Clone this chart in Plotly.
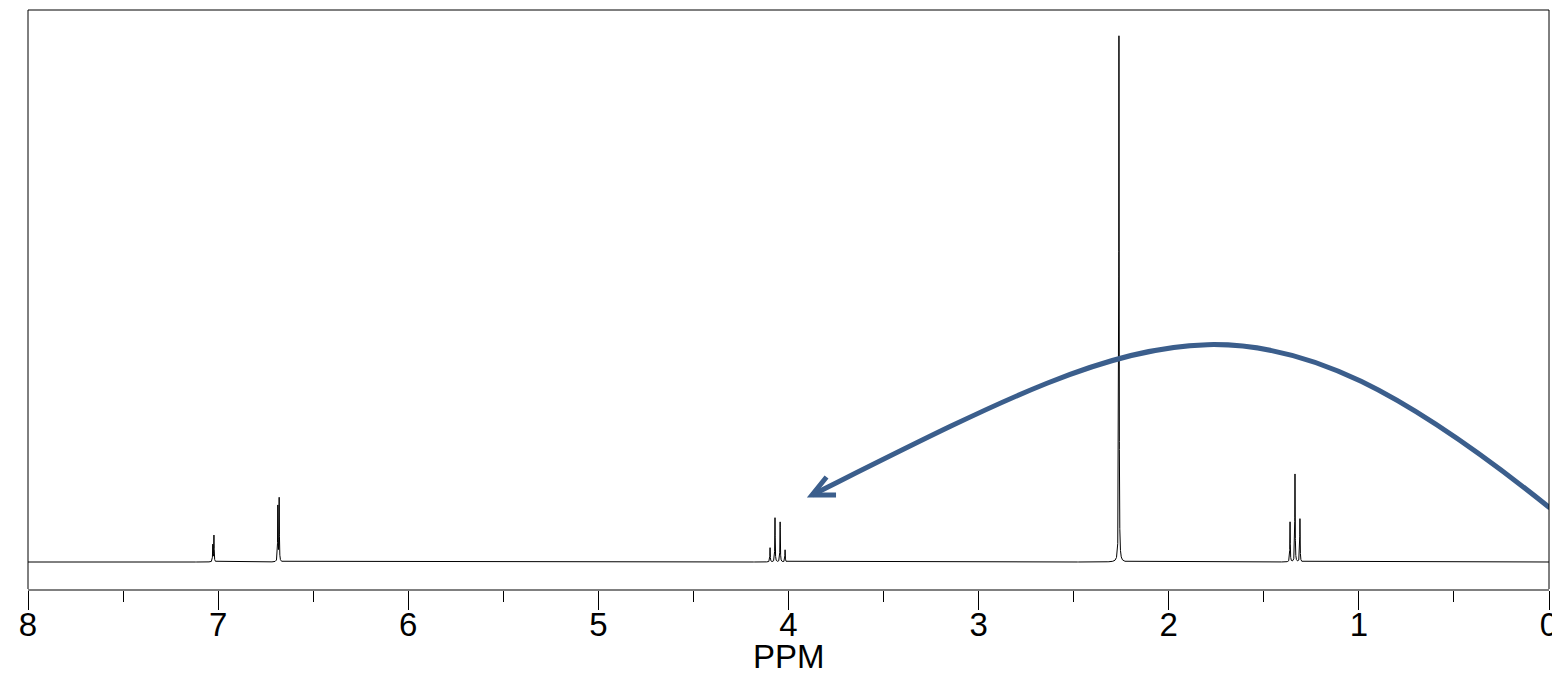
import numpy as np
import plotly.graph_objects as go

# Peak list (chemical shift in ppm, relative height)
peak_ppm = [7.028, 7.022, 6.686, 6.679, 4.097, 4.071, 4.044, 4.018, 2.262, 1.362, 1.336, 1.310]
peak_height = [0.032, 0.050, 0.105, 0.120, 0.027, 0.084, 0.076, 0.023, 1.000, 0.076, 0.167, 0.082]
line_hwhm = 0.0012  # Lorentzian half width (ppm)

tick_vals = [0, 1, 2, 3, 4, 5, 6, 7, 8]
tick_text = ["0", "1", "2", "3", "4", "5", "6", "7", "8"]
x_title = "PPM"

# Arrow annotation (ppm, relative height): cubic Bezier start, controls, end; head arms
arrow_curve = [(-0.005, 0.1027), (1.5805, 0.5612), (2.025, 0.4620), (3.876, 0.1274)]
arrow_head = [(3.80, 0.1616), (3.876, 0.1274), (3.75, 0.1274)]
arrow_color = "#3b5e8c"

# sampling grid: coarse everywhere, fine around each line
grid = [np.linspace(0, 8, 1601), np.array(peak_ppm)]
for p in peak_ppm:
    grid.append(np.linspace(p - 0.05, p + 0.05, 1001))
x = np.unique(np.concatenate(grid))
y = np.zeros_like(x)
for p, h in zip(peak_ppm, peak_height):
    y += h * line_hwhm**2 / (line_hwhm**2 + (x - p) ** 2)

fig = go.Figure()
fig.add_trace(go.Scatter(x=x, y=y, mode="lines", line=dict(color="black", width=1),
                         hoverinfo="skip", showlegend=False))

def pt(p):
    return f"{p[0]},{p[1]}"

path = "M " + pt(arrow_curve[0]) + " C " + " ".join(pt(p) for p in arrow_curve[1:])
fig.add_shape(type="path", path=path, xref="x", yref="y",
              line=dict(color=arrow_color, width=5), layer="above")
head = "M " + pt(arrow_head[0]) + " L " + pt(arrow_head[1]) + " L " + pt(arrow_head[2])
fig.add_shape(type="path", path=head, xref="x", yref="y",
              line=dict(color=arrow_color, width=5), layer="above")

# frame: top, left, right
for x0, y0, x1, y1 in [(0, 1, 1, 1), (0, 0, 0, 1), (1, 0, 1, 1)]:
    fig.add_shape(type="line", xref="paper", yref="paper", x0=x0, y0=y0, x1=x1, y1=y1,
                  line=dict(color="black", width=1))

# axis title placed precisely below the tick labels
fig.add_annotation(text=x_title, xref="paper", yref="paper", x=0.5, y=-0.1174,
                   xanchor="center", yanchor="middle", showarrow=False,
                   font=dict(size=33, color="black"))

fig.update_layout(
    width=1552, height=673,
    margin=dict(l=28, r=3, t=10, b=84),
    plot_bgcolor="white", paper_bgcolor="white",
    font=dict(family="Arial, Liberation Sans, sans-serif", color="black"),
    xaxis=dict(
        range=[8, 0], tickvals=tick_vals, ticktext=tick_text,
        ticks="outside", ticklen=19, tickwidth=1, tickcolor="black",
        tickfont=dict(size=33, color="black"),
        ticklabelstandoff=-14, ticklabeloverflow="allow", automargin=False,
        showline=True, linecolor="#808080", linewidth=2,
        showgrid=False, zeroline=False,
        minor=dict(dtick=0.5, tick0=0, ticks="outside", ticklen=11, tickwidth=1,
                   tickcolor="black", showgrid=False),
    ),
    yaxis=dict(range=[-0.0513, 1.049], visible=False, showgrid=False, zeroline=False,
               automargin=False),
)

fig.write_html("out.html", config={"displayModeBar": False},
               post_script="document.body.style.margin='0';document.body.style.overflow='hidden';")
